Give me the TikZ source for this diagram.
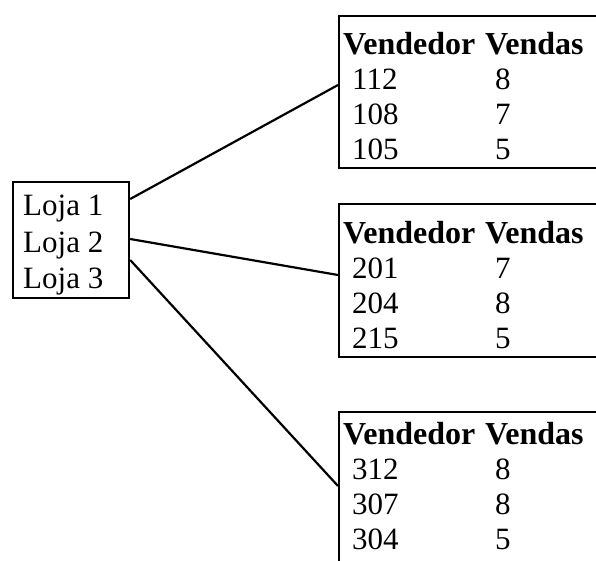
\documentclass[tikz,border=0pt]{standalone}
\usepackage{fontspec}
\setmainfont{Liberation Serif}
\begin{document}
\begin{tikzpicture}[x=1pt,y=-1pt,
  frame/.style={draw=black,line width=2.2pt,rectangle,inner sep=0pt,anchor=north west},
  cell/.style={anchor=base west,inner sep=0pt,font=\fontsize{31}{36}\selectfont},
  head/.style={cell,font=\fontsize{32}{36}\selectfont\bfseries},
  link/.style={draw=black,line width=2.2pt}]
\useasboundingbox (0,0) rectangle (596,560);
\clip (0,0) rectangle (596,560);

% store list
\node[frame,minimum width=116pt,minimum height=116pt] (loja) at (12,181) {};
\node[cell] (l1) at (23,215) {Loja 1};
\node[cell] (l2) at (23,252) {Loja 2};
\node[cell] (l3) at (23,288) {Loja 3};

% sales tables (right edge runs past the page)
\node[frame,minimum width=290pt,minimum height=152pt] (t1) at (338,15) {};
\node[frame,minimum width=290pt,minimum height=153pt] (t2) at (338,203) {};
\node[frame,minimum width=290pt,minimum height=200pt] (t3) at (338,411) {};

\foreach \tab/\y/\a/\b/\c/\va/\vb/\vc in {1/54/112/108/105/8/7/5, 2/243/201/204/215/7/8/5, 3/444/312/307/304/8/8/5}{
  \node[head] (h\tab a) at (343,\y) {Vendedor};
  \node[head] (h\tab b) at (485,\y) {Vendas};
  \node[cell] (r\tab a) at (352,\y+35) {\a};
  \node[cell] (r\tab b) at (352,\y+70) {\b};
  \node[cell] (r\tab c) at (352,\y+105) {\c};
  \node[cell] (v\tab a) at (495,\y+35) {\va};
  \node[cell] (v\tab b) at (495,\y+70) {\vb};
  \node[cell] (v\tab c) at (495,\y+105) {\vc};
}

% connectors
\coordinate (s1) at ([yshift=-18pt]loja.north east);
\coordinate (s2) at ([yshift=-58pt]loja.north east);
\coordinate (s3) at ([yshift=-79pt]loja.north east);
\coordinate (e1) at ([yshift=-70pt]t1.north west);
\coordinate (e2) at ([yshift=-72pt]t2.north west);
\coordinate (e3) at ([yshift=-75pt]t3.north west);
\draw[link] (s1) -- (e1);
\draw[link] (s2) -- (e2);
\draw[link] (s3) -- (e3);
\end{tikzpicture}
\end{document}
